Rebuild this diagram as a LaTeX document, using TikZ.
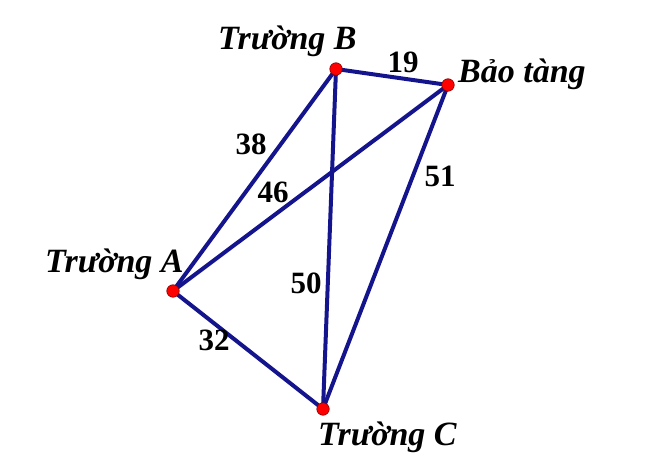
\documentclass[tikz,border=0pt]{standalone}
\usepackage{fontspec}
\setmainfont{Liberation Serif}
\usepackage{tikz}
\usetikzlibrary{calc}
\definecolor{navy}{RGB}{20,20,140}
\tikzstyle{pt}=[circle, draw=red!50!black, fill=red, minimum size=12.5pt, inner sep=0pt, line width=0.6pt]
\tikzstyle{lbl}=[font=\fontsize{34}{40}\selectfont\bfseries\itshape, inner sep=0pt, anchor=base west]
\tikzstyle{num}=[font=\fontsize{31}{36}\selectfont\bfseries, inner sep=0pt, anchor=base]
\tikzstyle{road}=[draw=navy, line width=4pt]

\begin{document}
\begin{tikzpicture}[x=1pt,y=-1pt]
      \useasboundingbox (0,0) rectangle (655,462);
      \coordinate (b) at (336,69);
      \coordinate (m) at (448,85);
      \coordinate (a) at (173,291);
      \coordinate (c) at (323,409);
      \path[road] (a) -- (b) -- (m) -- (c) -- (a);
      \path[road] (a) -- (m);
      \path[road] (b) -- (c);
      \node [pt] (pb) at (b) {};
      \node [pt] (pm) at (m) {};
      \node [pt] (pa) at (a) {};
      \node [pt] (pc) at (c) {};
      % ten cac diem
      \node [lbl] (lb) at (218,50) {Trường B};
      \node [lbl] (lm) at (458,83) {Bảo tàng};
      \node [lbl] (la) at (45,272) {Trường A};
      \node [lbl] (lc) at (318,445) {Trường C};
      % khoang cach
      \node [num] (n19) at (403,73) {19};
      \node [num] (n38) at (251,155) {38};
      \node [num] (n46) at (273,203) {46};
      \node [num] (n51) at (440,187) {51};
      \node [num] (n50) at (306,293) {50};
      \node [num] (n32) at (214,350) {32};
  \end{tikzpicture}
\end{document}
